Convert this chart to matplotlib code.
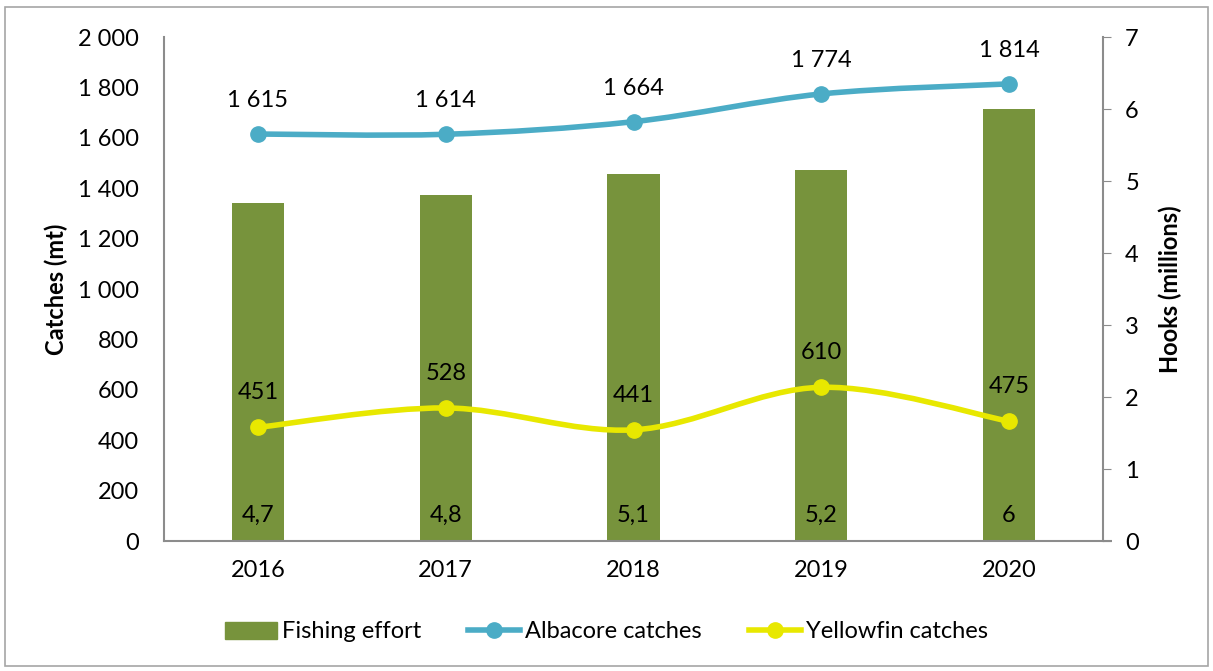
import matplotlib
matplotlib.use("Agg")
import matplotlib.pyplot as plt
import numpy as np
from matplotlib.path import Path
from matplotlib.patches import PathPatch, Rectangle
from matplotlib.lines import Line2D

years = ["2016", "2017", "2018", "2019", "2020"]
effort = [4.7, 4.8, 5.1, 5.15, 6.0]
effort_labels = ["4,7", "4,8", "5,1", "5,2", "6"]
albacore = [1615, 1614, 1664, 1774, 1814]
yellowfin = [451, 528, 441, 610, 475]

def fmt(v):
    return f"{int(v):,}".replace(",", " ")

GREEN = "#77933C"
BLUE = "#4BACC6"
YELLOW = "#E8E800"
GRAY = "#8C8C8C"
FS = 17

plt.rcParams['font.family'] = ['Lato', 'DejaVu Sans']

fig = plt.figure(figsize=(12.13, 6.71), dpi=100)
W, H = 1213, 671
ax = fig.add_axes([164 / W, 1 - 541 / H, (1103 - 164) / W, (541 - 37) / H])
ax2 = ax.twinx()

x = np.arange(len(years))

def smooth_path(xs, ys, t=1/6):
    pts = list(zip(xs, ys))
    verts = [pts[0]]
    codes = [Path.MOVETO]
    n = len(pts)
    for i in range(n - 1):
        p0 = pts[i - 1] if i > 0 else pts[i]
        p1 = pts[i]
        p2 = pts[i + 1]
        p3 = pts[i + 2] if i + 2 < n else pts[i + 1]
        c1 = (p1[0] + (p2[0] - p0[0]) * t, p1[1] + (p2[1] - p0[1]) * t)
        c2 = (p2[0] - (p3[0] - p1[0]) * t, p2[1] - (p3[1] - p1[1]) * t)
        verts += [c1, c2, p2]
        codes += [Path.CURVE4] * 3
    return Path(verts, codes)

ax2.bar(x, effort, width=0.277, color=GREEN, zorder=1)
for xi, lab in zip(x, effort_labels):
    ax2.text(xi, 0.36, lab, ha='center', va='center', fontsize=FS, color='black')

ax2.set_ylim(0, 7)
ax2.set_yticks(range(0, 8))
ax2.tick_params(axis='y', length=6, color=GRAY, labelsize=FS, pad=10)
ax2.set_ylabel("Hooks (millions)", fontsize=FS, fontweight='bold', labelpad=14)

ax.set_zorder(ax2.get_zorder() + 1)
ax.patch.set_visible(False)

for data, col in [(albacore, BLUE), (yellowfin, YELLOW)]:
    p = PathPatch(smooth_path(x, data), facecolor='none', edgecolor=col, lw=4, capstyle='round')
    ax.add_patch(p)
    ax.plot(x, data, 'o', color=col, ms=11, zorder=3)

for xi, v in zip(x, albacore):
    ax.annotate(fmt(v), (xi, v), xytext=(0, 24), textcoords='offset points', ha='center', va='center', fontsize=FS)
for xi, v in zip(x, yellowfin):
    ax.annotate(fmt(v), (xi, v), xytext=(0, 25), textcoords='offset points', ha='center', va='center', fontsize=FS)

ax.set_ylim(0, 2000)
ax.set_yticks(range(0, 2001, 200))
ax.set_yticklabels([fmt(v) for v in range(0, 2001, 200)])
ax.set_xlim(-0.5, 4.5)
ax.set_xticks(x)
ax.set_xticklabels(years)
ax.tick_params(axis='y', length=0, labelsize=FS, pad=18)
ax.tick_params(axis='x', length=0, labelsize=FS, pad=14)
ax.set_ylabel("Catches (mt)", fontsize=FS, fontweight='bold', labelpad=7)

for a in (ax, ax2):
    a.spines['top'].set_visible(False)
    for s in ('left', 'right', 'bottom'):
        a.spines[s].set_color(GRAY)
        a.spines[s].set_linewidth(1.5)
ax.spines['right'].set_visible(False)
ax2.spines['left'].set_visible(False)
ax2.spines['bottom'].set_visible(False)
ax2.tick_params(axis='x', length=0)

ax.plot([4.5, 4.55], [0, 0], color=GRAY, lw=1.5, clip_on=False, solid_capstyle='butt')

handles = [
    Rectangle((0, 0), 1, 1, color=GREEN),
    Line2D([], [], color=BLUE, lw=4, marker='o', ms=11),
    Line2D([], [], color=YELLOW, lw=4, marker='o', ms=11),
]
fig.legend(handles, ["Fishing effort", "Albacore catches", "Yellowfin catches"],
           loc='center', bbox_to_anchor=(0.5, 1 - 632 / H), ncol=3, frameon=False,
           fontsize=FS, handlelength=2.2, handletextpad=0.2, columnspacing=2.0)

fig.patches.append(Rectangle((5 / W, 1 - 666 / H), 1203 / W, 659 / H, transform=fig.transFigure,
                             fill=False, edgecolor='#A6A6A6', lw=1.2))

fig.savefig("out.png", dpi=100)
